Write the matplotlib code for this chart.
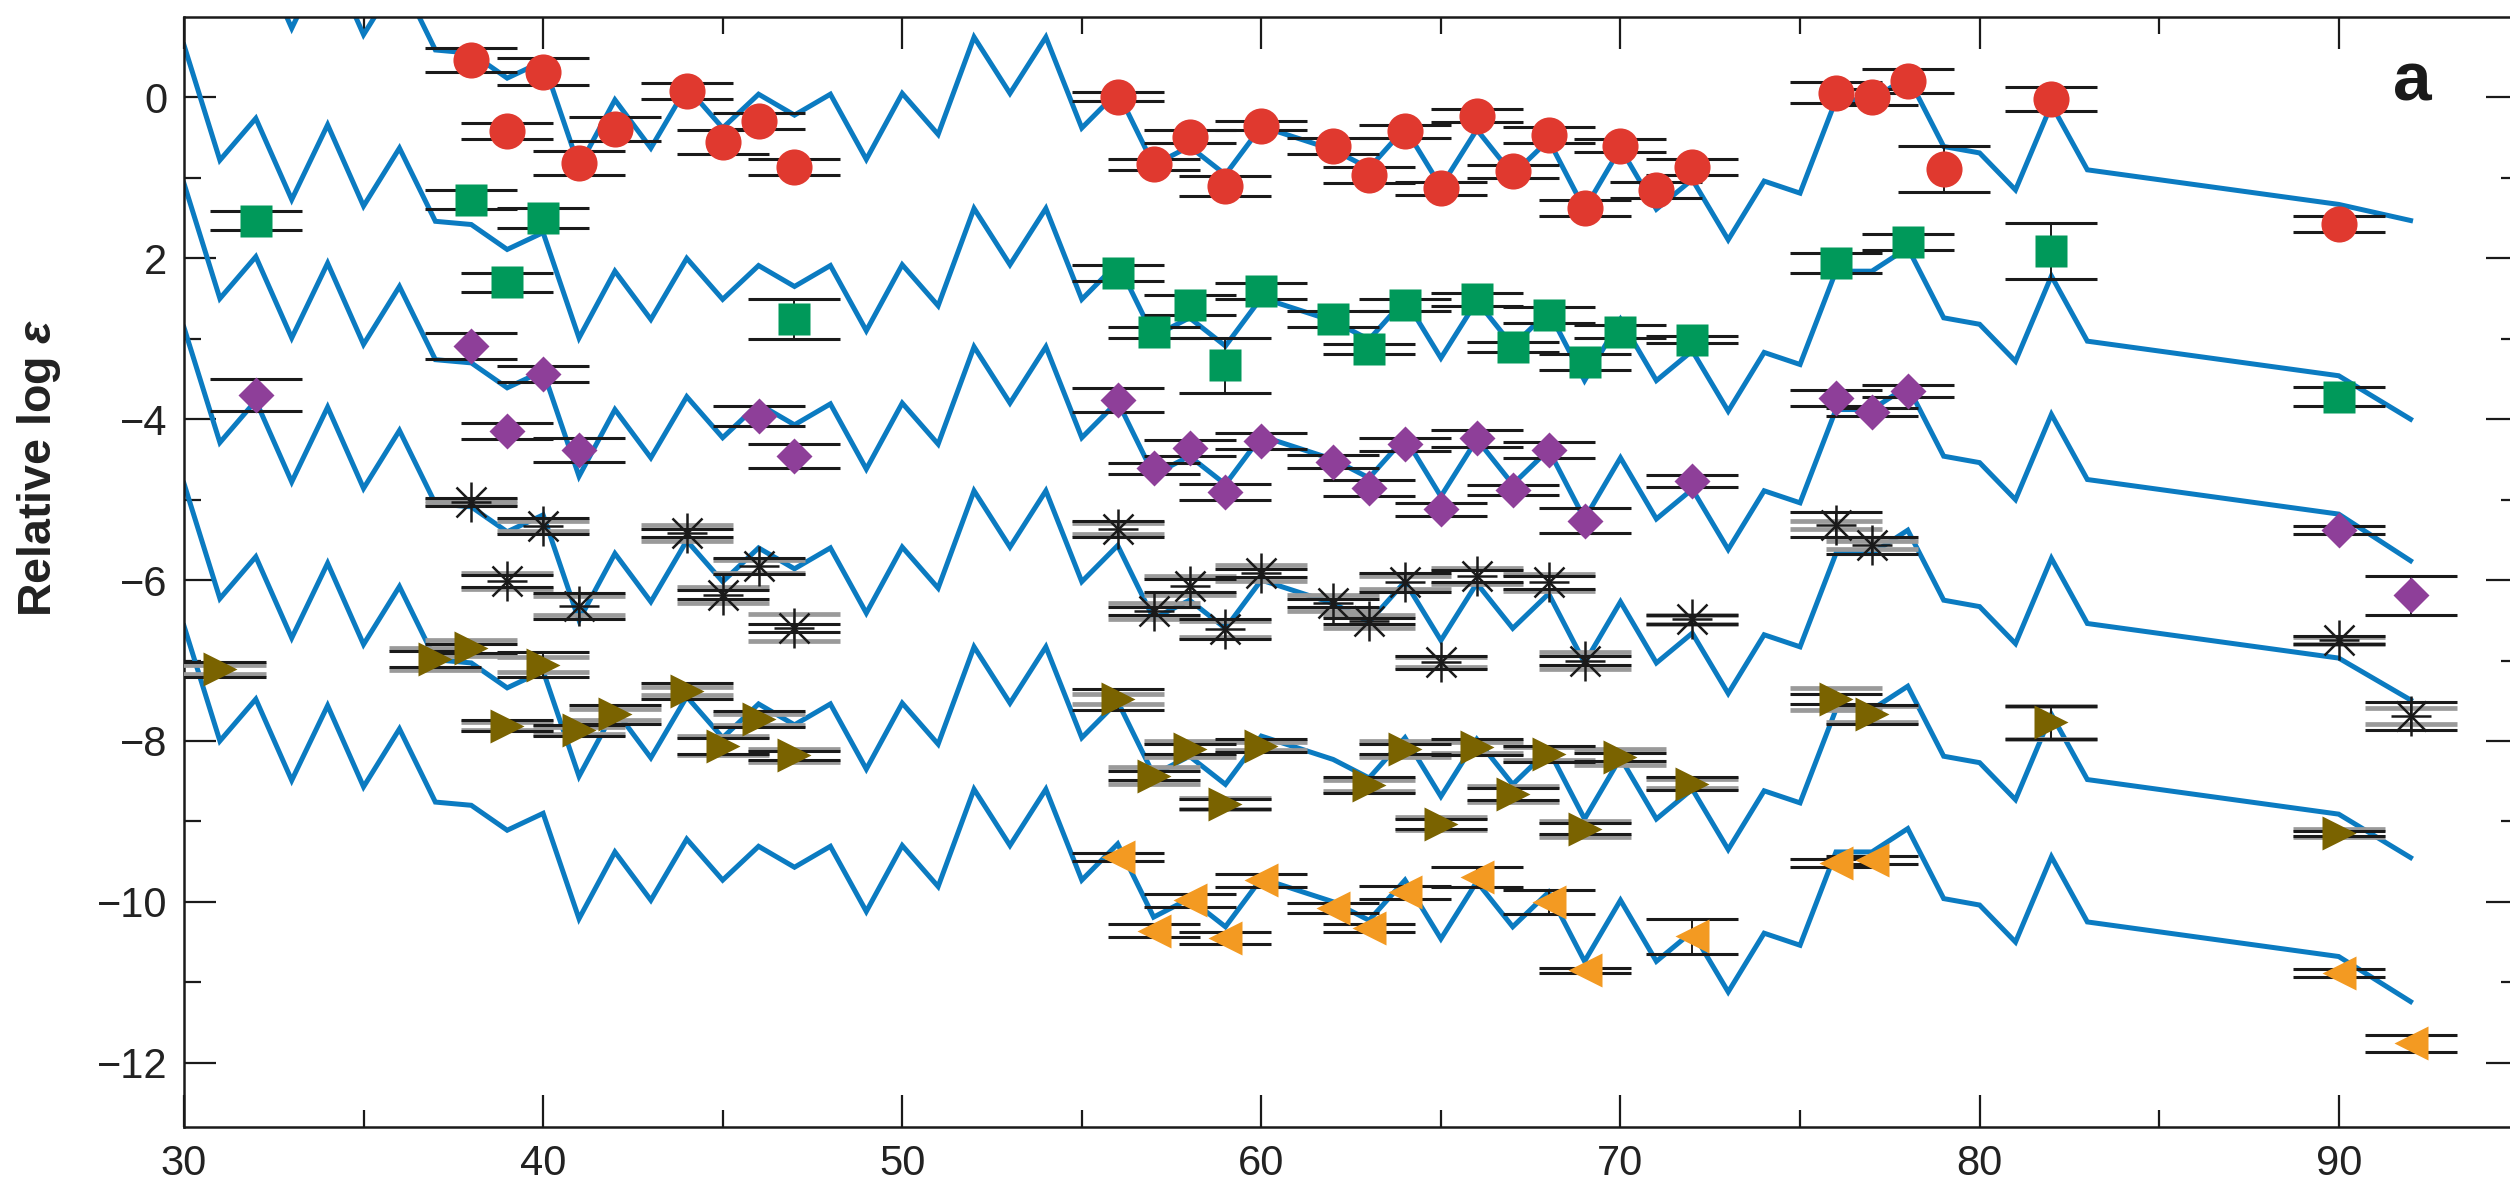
import matplotlib.pyplot as plt
import numpy as np
from matplotlib.ticker import FixedLocator, FixedFormatter

plt.rcParams['font.family'] = ['Liberation Sans', 'DejaVu Sans']
plt.rcParams['mathtext.fontset'] = 'custom'
plt.rcParams['mathtext.it'] = 'Liberation Sans:italic:bold'

# ---- scaled model pattern (lowest curve, Z = 30..90) and vertical shift of each copy ----
model_z = [30, 31, 32, 33, 34, 35, 36, 37, 38, 39, 40, 41, 42, 43, 44, 45, 46, 47, 48, 49,
           50, 51, 52, 53, 54, 55, 56, 57, 58, 59, 60, 62, 63, 64, 65, 66, 67, 68, 69, 70,
           71, 72, 73, 74, 75, 76, 77, 78, 79, 80, 81, 82, 83, 90]
model_base = [-6.57, -8.00, -7.48, -8.49, -7.56, -8.57, -7.85, -8.76, -8.80, -9.11,
              -8.90, -10.21, -9.38, -9.98, -9.22, -9.73, -9.31, -9.57, -9.31, -10.12,
              -9.30, -9.81, -8.60, -9.30, -8.60, -9.73, -9.28, -10.19, -9.96, -10.31,
              -9.71, -10.00, -10.23, -9.73, -10.46, -9.75, -10.31, -9.88, -10.74, -9.98,
              -10.74, -10.37, -11.12, -10.39, -10.54, -9.38, -9.38, -9.09, -9.96, -10.04,
              -10.50, -9.44, -10.25, -10.68]
model_shift = [9.35, 7.22, 5.50, 3.71, 1.77, 0.0]
# last model point (Z = 92) of each curve, top to bottom
model_z_end = 92
model_end = [-1.53, -4.00, -5.76, -7.49, -9.45, -11.24]

# ---- star 1: red circles ----
red_z = [38, 39, 40, 41, 42, 44, 45, 46, 47, 56, 57, 58, 59, 60, 62, 63, 64, 65, 66, 67,
         68, 69, 70, 71, 72, 76, 77, 78, 79, 82, 90]
red_y = [0.46, -0.42, 0.32, -0.81, -0.39, 0.08, -0.55, -0.29, -0.87, 0.01, -0.83, -0.49,
         -1.10, -0.35, -0.60, -0.96, -0.42, -1.13, -0.23, -0.92, -0.47, -1.38, -0.60,
         -1.15, -0.87, 0.06, 0.01, 0.20, -0.89, -0.02, -1.57]
red_err = [0.15, 0.10, 0.17, 0.15, 0.15, 0.10, 0.15, 0.10, 0.10, 0.06, 0.07, 0.08, 0.12,
           0.06, 0.10, 0.10, 0.08, 0.08, 0.08, 0.08, 0.10, 0.10, 0.08, 0.10, 0.10, 0.13,
           0.10, 0.15, 0.29, 0.15, 0.10]

# ---- star 2: green squares ----
green_z = [32, 38, 39, 40, 47, 56, 57, 58, 59, 60, 62, 63, 64, 66, 67, 68, 69, 70, 72, 76,
           78, 82, 90]
green_y = [-1.53, -1.27, -2.30, -1.50, -2.75, -2.18, -2.92, -2.58, -3.33, -2.41, -2.75,
           -3.13, -2.58, -2.51, -3.10, -2.70, -3.29, -2.91, -3.01, -2.06, -1.80, -1.91, -3.72]
green_err = [0.12, 0.12, 0.12, 0.12, 0.25, 0.10, 0.07, 0.12, 0.34, 0.10, 0.10, 0.06, 0.08,
             0.08, 0.06, 0.10, 0.10, 0.08, 0.04, 0.12, 0.10, 0.35, 0.12]

# ---- star 3: purple diamonds ----
purple_z = [32, 38, 39, 40, 41, 46, 47, 56, 57, 58, 59, 60, 62, 63, 64, 65, 66, 67, 68, 69,
            72, 76, 77, 78, 90, 92]
purple_y = [-3.70, -3.09, -4.15, -3.44, -4.38, -3.96, -4.46, -3.76, -4.61, -4.36, -4.91,
            -4.27, -4.53, -4.86, -4.31, -5.12, -4.24, -4.88, -4.38, -5.26, -4.77, -3.74,
            -3.91, -3.65, -5.38, -6.19]
purple_err = [0.20, 0.16, 0.10, 0.10, 0.15, 0.12, 0.15, 0.15, 0.07, 0.10, 0.10, 0.10, 0.08,
              0.10, 0.08, 0.08, 0.10, 0.06, 0.10, 0.15, 0.07, 0.10, 0.05, 0.08, 0.05, 0.24]

# ---- star 4: black asterisks ----
ast_z = [38, 39, 40, 41, 44, 45, 46, 47, 56, 57, 58, 59, 60, 62, 63, 64, 65, 66, 68, 69,
         72, 76, 77, 90, 92]
ast_y = [-5.03, -6.01, -5.33, -6.32, -5.41, -6.18, -5.83, -6.59, -5.36, -6.38, -6.07,
         -6.61, -5.91, -6.28, -6.51, -6.03, -7.02, -5.95, -6.03, -7.00, -6.49, -5.31,
         -5.57, -6.75, -7.69]
ast_err = [0.05, 0.07, 0.10, 0.16, 0.05, 0.06, 0.10, 0.05, 0.10, 0.05, 0.08, 0.12, 0.05,
           0.05, 0.04, 0.12, 0.08, 0.08, 0.08, 0.05, 0.05, 0.15, 0.10, 0.05, 0.17]
ast_err_grey = [0.03, 0.10, 0.06, 0.12, 0.10, 0.10, 0.08, 0.17, 0.07, 0.10, 0.12, 0.10,
                0.10, 0.10, 0.08, 0.08, 0.06, 0.10, 0.10, 0.10, 0.05, 0.05, 0.05, 0.04, 0.10]

# ---- star 5: olive right triangles ----
olive_z = [31, 37, 38, 39, 40, 41, 42, 44, 45, 46, 47, 56, 57, 58, 59, 60, 63, 64, 65, 66,
           67, 68, 69, 70, 72, 76, 77, 82, 90]
olive_y = [-7.11, -6.98, -6.85, -7.81, -7.05, -7.87, -7.67, -7.38, -8.06, -7.73, -8.18,
           -7.48, -8.43, -8.10, -8.78, -8.06, -8.55, -8.10, -9.03, -8.08, -8.66, -8.16,
           -9.09, -8.20, -8.53, -7.48, -7.67, -7.77, -9.15]
olive_err = [0.09, 0.10, 0.06, 0.07, 0.15, 0.07, 0.12, 0.10, 0.10, 0.10, 0.06, 0.13, 0.06,
             0.06, 0.06, 0.08, 0.10, 0.06, 0.06, 0.10, 0.08, 0.10, 0.07, 0.05, 0.08, 0.06,
             0.12, 0.20, 0.03]
olive_err_grey = [0.06, 0.14, 0.10, 0.05, 0.09, 0.04, 0.07, 0.05, 0.12, 0.07, 0.08, 0.06,
                  0.10, 0.10, 0.07, 0.05, 0.07, 0.10, 0.08, 0.07, 0.10, 0.08, 0.10, 0.10,
                  0.06, 0.14, 0.10, 0.20, 0.05]

# ---- star 6: orange left triangles ----
orange_z = [56, 57, 58, 59, 60, 62, 63, 64, 66, 68, 69, 72, 76, 77, 90, 92]
orange_y = [-9.44, -10.36, -9.98, -10.45, -9.73, -10.08, -10.33, -9.88, -9.69, -10.00,
            -10.85, -10.43, -9.52, -9.48, -10.89, -11.76]
orange_err = [0.05, 0.08, 0.08, 0.08, 0.08, 0.06, 0.05, 0.08, 0.12, 0.15, 0.03, 0.22, 0.05,
              0.05, 0.05, 0.11]

y_ticks = [-12, -10, -8, -6, -4, -2, 0]
y_tick_labels = ['\u221212', '\u221210', '\u22128', '\u22126', '\u22124', '2', '0']
x_ticks = [30, 40, 50, 60, 70, 80, 90]

line_blue = '#0B7BC1'
cap_black = '#1A1A1A'
cap_grey = '#9A9A9A'

fig = plt.figure(figsize=(25.10, 11.88), dpi=100)
ax = fig.add_axes([0.0733, 0.0513, 0.930, 0.9344])

# model curves
for shift, end in zip(model_shift, model_end):
    zz = list(model_z) + [model_z_end]
    yy = list(np.array(model_base) + shift) + [end]
    ax.plot(zz, yy, color=line_blue, lw=3.6, solid_joinstyle='miter', zorder=2)

# error bars: grey first, black on top
ebar = dict(fmt='none', capsize=33, zorder=3)
ax.errorbar(ast_z, ast_y, yerr=ast_err_grey, ecolor=cap_grey, elinewidth=1.5,
            capthick=3.4, **ebar)
ax.errorbar(olive_z, olive_y, yerr=olive_err_grey, ecolor=cap_grey, elinewidth=1.5,
            capthick=3.4, **ebar)
for zz, yy, ee in [(red_z, red_y, red_err), (green_z, green_y, green_err),
                   (purple_z, purple_y, purple_err), (ast_z, ast_y, ast_err),
                   (olive_z, olive_y, olive_err), (orange_z, orange_y, orange_err)]:
    ax.errorbar(zz, yy, yerr=ee, ecolor=cap_black, elinewidth=1.4, capthick=2.2, **ebar)

# markers
ax.plot(red_z, red_y, 'o', ms=26, color='#E0392F', mec='none', zorder=4)
ax.plot(green_z, green_y, 's', ms=23, color='#00995A', mec='none', zorder=4)
ax.plot(purple_z, purple_y, 'D', ms=18, color='#8E3F99', mec='none', zorder=4)
ax.plot(ast_z, ast_y, '+', ms=29, color='#1A1A1A', mew=1.8, zorder=4)
ax.plot(ast_z, ast_y, 'x', ms=21, color='#1A1A1A', mew=1.8, zorder=4)
ax.plot(olive_z, olive_y, '>', ms=25, color='#7A6300', mec='none', zorder=4)
ax.plot(orange_z, orange_y, '<', ms=25, color='#F39A22', mec='none', zorder=4)

ax.set_xlim(30, 95)
ax.set_ylim(-12.8, 1.0)

ax.xaxis.set_major_locator(FixedLocator(x_ticks))
ax.xaxis.set_minor_locator(FixedLocator([35, 45, 55, 65, 75, 85, 95]))
ax.yaxis.set_major_locator(FixedLocator(y_ticks))
ax.yaxis.set_major_formatter(FixedFormatter(y_tick_labels))
ax.yaxis.set_minor_locator(FixedLocator([-11, -9, -7, -5, -3, -1]))
ax.tick_params(which='both', direction='in', top=True, right=True, width=1.6,
               color='#1A1A1A', labelsize=30, labelcolor='#222222')
ax.tick_params(which='major', length=23)
ax.tick_params(which='minor', length=12)
ax.tick_params(axis='y', pad=12)
ax.tick_params(axis='x', pad=12)
for s in ax.spines.values():
    s.set_linewidth(1.8)
    s.set_color('#1A1A1A')

fig.text(0.0155, 0.606, r'Relative log $\epsilon$', rotation=90, ha='center',
         va='center', fontsize=33.5, fontweight='bold', color='#222222')
ax.text(92.05, -0.04, 'a', ha='center', va='baseline', fontsize=50,
        fontweight='bold', color='#1A1A1A')

fig.savefig('out.png', dpi=100)
